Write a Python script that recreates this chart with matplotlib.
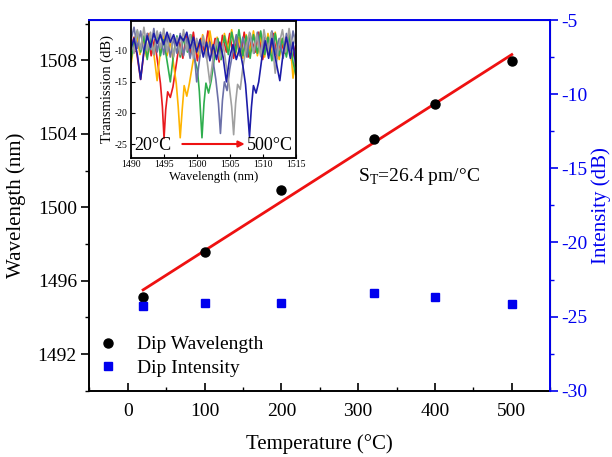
import numpy as np
import matplotlib
matplotlib.use("Agg")
import matplotlib.pyplot as plt
from matplotlib.ticker import MultipleLocator

plt.rcParams['font.family'] = ['Liberation Serif', 'DejaVu Serif']
plt.rcParams['mathtext.fontset'] = 'custom'
plt.rcParams['mathtext.rm'] = 'Liberation Serif'
plt.rcParams['axes.unicode_minus'] = False

# main data
temperature = [20, 100, 200, 320, 400, 500]
dip_wavelength = [1495.09, 1497.54, 1500.95, 1503.74, 1505.64, 1507.96]
dip_intensity = [-24.30, -24.09, -24.09, -23.42, -23.69, -24.16]

# inset spectra (wavelength nm, transmission dB)
red_wl = [1490.0, 1490.5, 1491.0, 1491.5, 1492.0, 1492.6, 1493.1, 1493.6, 1494.1, 1494.5,
          1494.8, 1495.05, 1495.3, 1495.6, 1496.0, 1496.4, 1496.9, 1497.4, 1497.9, 1498.4,
          1499.0, 1499.5, 1500.1, 1500.6, 1501.2, 1501.7, 1502.3, 1502.8, 1503.4, 1503.9,
          1504.5, 1505.0, 1505.6, 1506.1, 1506.7, 1507.2, 1507.8, 1508.3, 1508.9, 1509.4,
          1510.0, 1510.5, 1511.1, 1511.6, 1512.2, 1512.7, 1513.3, 1513.8, 1514.4, 1515.0]
red_db = [-9.5, -7.8, -11.0, -14.6, -10.2, -7.2, -10.8, -8.2, -12.0, -15.2,
          -19.0, -24.1, -19.5, -16.6, -17.5, -15.8, -12.2, -8.6, -11.2, -7.6,
          -10.4, -7.0, -11.6, -8.0, -10.2, -6.8, -10.6, -8.0, -11.8, -7.5,
          -10.2, -7.2, -11.2, -8.0, -10.6, -7.0, -11.0, -8.2, -10.2, -7.0,
          -11.4, -8.0, -10.6, -7.2, -11.2, -8.0, -10.4, -7.6, -11.6, -9.2]

orange_wl = [1490.0, 1490.4, 1490.9, 1491.4, 1491.9, 1492.4, 1492.9, 1493.5, 1494.0, 1494.5,
             1495.0, 1495.5, 1496.0, 1496.5, 1496.9, 1497.2, 1497.5, 1497.8, 1498.1, 1498.5,
             1498.9, 1499.4, 1499.9, 1500.4, 1500.9, 1501.5, 1502.0, 1502.6, 1503.1, 1503.7,
             1504.2, 1504.8, 1505.3, 1505.9, 1506.4, 1507.0, 1507.5, 1508.1, 1508.6, 1509.2,
             1509.7, 1510.3, 1510.8, 1511.4, 1511.9, 1512.5, 1513.0, 1513.6, 1514.1, 1514.6, 1515.0]
orange_db = [-12.6, -9.5, -7.4, -10.6, -8.0, -11.0, -7.2, -10.4, -14.8, -10.0,
             -7.6, -10.8, -8.4, -12.2, -15.2, -19.0, -24.0, -19.5, -15.6, -17.3,
             -15.2, -12.0, -8.8, -11.0, -7.4, -10.2, -6.8, -10.8, -7.8, -11.4,
             -7.2, -10.0, -6.6, -10.6, -7.8, -11.2, -7.4, -10.4, -6.8, -10.8,
             -7.6, -11.0, -7.2, -10.4, -7.0, -11.4, -8.0, -10.6, -7.6, -14.4, -11.5]

green_wl = [1490.0, 1490.5, 1491.0, 1491.5, 1492.0, 1492.5, 1493.0, 1493.5, 1494.0, 1494.5,
            1495.0, 1495.5, 1496.0, 1496.5, 1497.0, 1497.5, 1498.0, 1498.6, 1499.1, 1499.6,
            1500.1, 1500.4, 1500.8, 1501.1, 1501.4, 1501.8, 1502.2, 1502.7, 1503.2, 1503.7,
            1504.2, 1504.8, 1505.3, 1505.9, 1506.4, 1507.0, 1507.5, 1508.1, 1508.6, 1509.2,
            1509.7, 1510.3, 1510.8, 1511.4, 1511.9, 1512.5, 1513.0, 1513.6, 1514.1, 1514.6, 1515.0]
green_db = [-11.8, -8.6, -6.8, -10.2, -7.6, -11.4, -8.0, -10.6, -7.0, -10.8,
            -8.2, -11.6, -15.0, -10.4, -7.6, -11.0, -8.0, -10.2, -7.4, -11.0,
            -13.0, -16.5, -24.0, -18.5, -15.2, -16.8, -14.8, -11.0, -8.0, -11.4,
            -7.6, -10.6, -7.0, -10.2, -6.6, -10.8, -7.6, -11.2, -7.4, -10.4,
            -6.8, -10.6, -7.8, -11.6, -7.2, -10.8, -8.0, -11.0, -7.4, -11.8, -13.8]

slate_wl = [1490.0, 1490.5, 1491.0, 1491.5, 1492.0, 1492.5, 1493.0, 1493.5, 1494.0, 1494.5,
            1495.0, 1495.5, 1496.0, 1496.5, 1497.0, 1497.5, 1498.0, 1498.5, 1499.0, 1499.5,
            1500.0, 1500.5, 1501.0, 1501.5, 1502.0, 1502.5, 1502.9, 1503.3, 1503.6, 1503.9,
            1504.2, 1504.6, 1505.0, 1505.5, 1506.0, 1506.5, 1507.0, 1507.6, 1508.1, 1508.7,
            1509.2, 1509.8, 1510.3, 1510.9, 1511.4, 1512.0, 1512.5, 1513.1, 1513.6, 1514.2,
            1514.6, 1515.0]
slate_db = [-8.4, -6.2, -9.6, -6.8, -10.4, -7.2, -9.8, -6.4, -10.2, -7.0,
            -10.6, -7.6, -11.0, -8.0, -10.4, -7.2, -10.8, -8.0, -11.2, -8.6,
            -15.0, -10.8, -8.2, -11.2, -8.6, -11.8, -14.6, -18.5, -23.3, -18.0,
            -15.0, -16.4, -13.0, -10.0, -7.4, -10.8, -7.8, -11.0, -7.2, -10.4,
            -7.0, -11.0, -7.8, -10.2, -6.8, -10.6, -8.0, -11.2, -7.2, -10.0,
            -6.8, -8.8]

gray_wl = [1490.0, 1490.5, 1491.0, 1491.5, 1492.0, 1492.5, 1493.0, 1493.5, 1494.0, 1494.5,
           1495.0, 1495.5, 1496.0, 1496.5, 1497.0, 1497.5, 1498.0, 1498.5, 1499.0, 1499.5,
           1500.0, 1500.5, 1501.0, 1501.5, 1502.0, 1502.5, 1503.0, 1503.5, 1504.0, 1504.5,
           1504.9, 1505.3, 1505.6, 1505.9, 1506.2, 1506.6, 1507.0, 1507.5, 1508.0, 1508.6,
           1509.1, 1509.7, 1510.2, 1510.8, 1511.3, 1511.9, 1512.4, 1513.0, 1513.5, 1514.0,
           1514.5, 1515.0]
gray_db = [-7.6, -10.4, -6.6, -9.8, -6.2, -10.0, -7.0, -10.6, -6.8, -9.6,
           -6.4, -10.2, -7.2, -11.0, -7.8, -10.6, -6.6, -10.0, -7.4, -11.2,
           -8.0, -10.6, -7.6, -11.0, -15.2, -11.0, -8.2, -11.4, -8.8, -12.6,
           -15.4, -19.0, -23.5, -18.4, -15.4, -16.2, -12.6, -9.6, -7.0, -10.4,
           -7.4, -10.8, -6.6, -10.2, -7.0, -13.6, -9.4, -6.6, -10.2, -6.4,
           -9.6, -7.4]

navy_wl = [1490.0, 1490.5, 1491.0, 1491.5, 1492.0, 1492.5, 1493.0, 1493.5, 1494.0, 1494.5,
           1495.0, 1495.5, 1496.0, 1496.5, 1497.0, 1497.5, 1498.0, 1498.5, 1499.0, 1499.5,
           1500.0, 1500.5, 1501.0, 1501.5, 1502.0, 1502.5, 1503.0, 1503.5, 1504.0, 1504.5,
           1505.0, 1505.5, 1506.0, 1506.5, 1507.0, 1507.4, 1507.7, 1508.0, 1508.3, 1508.6,
           1509.0, 1509.4, 1509.9, 1510.4, 1510.9, 1511.4, 1512.0, 1512.6, 1513.1, 1513.6,
           1514.2, 1514.6, 1515.0]
navy_db = [-9.8, -8.0, -10.6, -14.6, -10.0, -7.6, -9.4, -7.2, -8.8, -7.4,
           -9.0, -7.0, -8.6, -7.4, -9.2, -7.6, -8.4, -7.0, -9.6, -7.8,
           -10.2, -8.2, -11.0, -8.6, -11.6, -9.0, -11.4, -8.6, -11.0, -15.0,
           -11.0, -9.0, -11.4, -9.6, -12.4, -15.4, -19.5, -23.8, -19.0, -15.6,
           -16.8, -15.0, -11.0, -8.4, -11.2, -8.0, -11.6, -14.8, -10.4, -7.8,
           -11.2, -8.6, -12.4]

spectra = [
    (red_wl, red_db, '#e8191e'),
    (orange_wl, orange_db, '#ffb400'),
    (green_wl, green_db, '#2fae4e'),
    (slate_wl, slate_db, '#6b70a8'),
    (gray_wl, gray_db, '#a0a0a0'),
    (navy_wl, navy_db, '#1c1ca8'),
]

blue = '#0000ee'

fig = plt.figure(figsize=(6.12, 4.57), dpi=100)
ax = fig.add_axes([0.146, 0.145, 0.753, 0.811])
ax2 = ax.twinx()

# linear fit of the dip wavelength
slope, intercept = np.polyfit(temperature, dip_wavelength, 1)
fit_x = np.array([temperature[0], temperature[-1]])
ax.plot(fit_x, slope * fit_x + intercept, color='#ee1111', lw=2.0, zorder=2)

h1, = ax.plot(temperature, dip_wavelength, 'o', color='black', ms=6.5, label='Dip Wavelength', zorder=3)
h2, = ax2.plot(temperature, dip_intensity, 's', color=blue, ms=5.5, label='Dip Intensity')

ax.set_xlim(-50, 550)
ax.set_ylim(1490, 1510.2)
ax2.set_ylim(-30, -5)

ax.xaxis.set_major_locator(MultipleLocator(100))
ax.xaxis.set_minor_locator(MultipleLocator(50))
ax.yaxis.set_major_locator(MultipleLocator(4))
ax.yaxis.set_minor_locator(MultipleLocator(2))
ax2.yaxis.set_major_locator(MultipleLocator(5))
ax2.yaxis.set_minor_locator(MultipleLocator(2.5))

ax.tick_params(axis='x', which='both', direction='in', top=False, labelsize=14, pad=9)
ax.tick_params(axis='x', which='major', length=6, width=1.2)
ax.tick_params(axis='x', which='minor', length=3, width=1.0)
ax.tick_params(axis='y', which='both', direction='out', labelsize=14, pad=3)
ax.tick_params(axis='y', which='major', length=6, width=1.2)
ax.tick_params(axis='y', which='minor', length=3, width=1.0)
ax2.tick_params(axis='y', which='both', direction='out', colors=blue, labelsize=14, pad=2)
ax2.tick_params(axis='y', which='major', length=6, width=1.2)
ax2.tick_params(axis='y', which='minor', length=3, width=1.0)

for s in ['left', 'bottom']:
    ax.spines[s].set_linewidth(1.4)
for s in ['right', 'top']:
    ax2.spines[s].set_color(blue)
    ax2.spines[s].set_linewidth(1.4)
ax2.spines['left'].set_visible(False)
ax2.spines['bottom'].set_visible(False)

ax.set_xlabel('Temperature (°C)', fontsize=15, labelpad=10)
ax.set_ylabel('Wavelength (nm)', fontsize=15, labelpad=8)
ax2.set_ylabel('Intensity (dB)', fontsize=15, color=blue, labelpad=3)

ax.text(300, 1501.7, r'S$_\mathrm{T}$=26.4 pm/°C', fontsize=14, va='center', ha='left')

ax2.legend([h1, h2], ['Dip Wavelength', 'Dip Intensity'], loc='lower left',
           bbox_to_anchor=(-0.022, -0.01), frameon=False, fontsize=14,
           handletextpad=0.85, labelspacing=0.3, handlelength=1.2)

# inset
ins = fig.add_axes([0.2136, 0.655, 0.2695, 0.299])
for wl, db, c in spectra:
    ins.plot(wl, db, color=c, lw=1.2)
ins.set_xlim(1490, 1515)
ins.set_ylim(-27.2, -5.2)
ins.xaxis.set_major_locator(MultipleLocator(5))
ins.set_yticks([-10, -15, -20, -25])
ins.tick_params(which='both', direction='in', labelsize=7, length=3, pad=2)
for s in ins.spines.values():
    s.set_linewidth(1.3)
ins.set_xlabel('Wavelength (nm)', fontsize=9.3, labelpad=1)
ins.set_ylabel('Transmission (dB)', fontsize=10.5, labelpad=1)
ins.text(1490.5, -25.2, '20°C', fontsize=13, va='center', ha='left')
ins.annotate('', xy=(1507.7, -25.0), xytext=(1497.4, -25.0),
             arrowprops=dict(arrowstyle='-|>', color='#ee1111', lw=1.5, mutation_scale=9))
ins.text(1507.6, -25.2, '500°C', fontsize=13, va='center', ha='left')

fig.savefig('out.png', dpi=100)
